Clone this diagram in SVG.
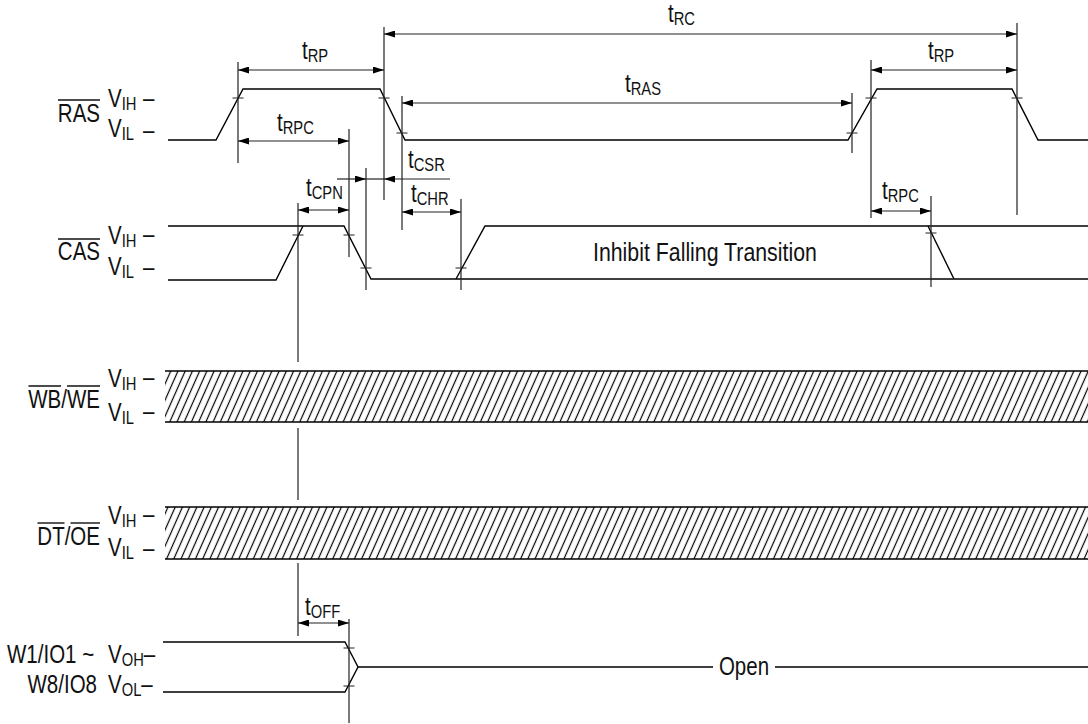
<svg xmlns="http://www.w3.org/2000/svg" width="1088" height="724" viewBox="0 0 1088 724">
<style>
text{font-family:"Liberation Sans",Arial,sans-serif;fill:#111;font-size:25px}
.s{font-size:18px}
.w{fill:none;stroke:#000;stroke-width:1.4}
.e{fill:none;stroke:#222;stroke-width:1.2}
.d{fill:none;stroke:#222;stroke-width:1.2;marker-end:url(#a)}
.dd{fill:none;stroke:#222;stroke-width:1.2;marker-start:url(#a);marker-end:url(#a)}
.t{fill:none;stroke:#222;stroke-width:1.2}
.ov{fill:none;stroke:#111;stroke-width:1.4}
</style>
<defs>
<marker id="a" viewBox="0 0 11 7" refX="11" refY="3.5" markerWidth="11" markerHeight="7" markerUnits="userSpaceOnUse" orient="auto-start-reverse"><path d="M0,0 L11,3.5 L0,7 z" fill="#000"/></marker>
<pattern id="h" patternUnits="userSpaceOnUse" width="6.6" height="10" patternTransform="rotate(24)"><line x1="3.3" y1="-2" x2="3.3" y2="12" stroke="#000" stroke-width="1.2"/></pattern>
</defs>
<rect width="1088" height="724" fill="#fff"/>

<g id="ras">
<g transform="scale(0.82,1)">
<text x="121.95" y="122" text-anchor="end">RAS</text>
<text x="131.71" y="107">V<tspan class="s" dy="3">IH</tspan></text>
<text x="174.39" y="107">–</text>
<text x="131.71" y="137">V<tspan class="s" dy="3">IL</tspan></text>
<text x="174.39" y="139">–</text>
</g>
<line class="ov" x1="58" y1="100" x2="100" y2="100"/>
<path class="w" d="M168,140 H216 L243,89 H380 L405,140 H848 L877,89 H1012 L1038,140 H1088"/>
</g>

<g id="cas">
<g transform="scale(0.82,1)">
<text x="121.95" y="260" text-anchor="end">CAS</text>
<text x="131.71" y="244">V<tspan class="s" dy="3">IH</tspan></text>
<text x="174.39" y="243">–</text>
<text x="131.71" y="275">V<tspan class="s" dy="3">IL</tspan></text>
<text x="174.39" y="276">–</text>
<text x="723.17" y="261" style="font-size:26px">Inhibit Falling Transition</text>
</g>
<line class="ov" x1="58" y1="239" x2="100" y2="239"/>
<path class="w" d="M168,226 H344 L371,279 H1088"/>
<path class="w" d="M168,280 H276 L303,226"/>
<path class="w" d="M456,279 L485,226 H1088"/>
<path class="w" d="M928,226 L954,279"/>
</g>

<g id="wbwe">
<g transform="scale(0.82,1)">
<text x="121.95" y="408" text-anchor="end">WB/WE</text>
<text x="131.71" y="387">V<tspan class="s" dy="3">IH</tspan></text>
<text x="174.39" y="386">–</text>
<text x="131.71" y="421">V<tspan class="s" dy="3">IL</tspan></text>
<text x="174.39" y="420">–</text>
</g>
<line class="ov" x1="28.5" y1="386" x2="61" y2="386"/>
<line class="ov" x1="67" y1="386" x2="100" y2="386"/>
<rect x="165" y="371" width="923" height="51" fill="url(#h)"/>
<path class="w" d="M165,371 H1088 M165,422 H1088"/>
</g>

<g id="dtoe">
<g transform="scale(0.82,1)">
<text x="121.95" y="545" text-anchor="end">DT/OE</text>
<text x="131.71" y="524">V<tspan class="s" dy="3">IH</tspan></text>
<text x="174.39" y="523">–</text>
<text x="131.71" y="556">V<tspan class="s" dy="3">IL</tspan></text>
<text x="174.39" y="557">–</text>
</g>
<line class="ov" x1="37.5" y1="523" x2="64.5" y2="523"/>
<line class="ov" x1="70.5" y1="523" x2="100" y2="523"/>
<rect x="165" y="507" width="923" height="52" fill="url(#h)"/>
<path class="w" d="M165,507 H1088 M165,559 H1088"/>
</g>

<g id="io">
<g transform="scale(0.82,1)">
<text x="8.54" y="663">W1/IO1 ~</text>
<text x="118.29" y="693" text-anchor="end">W8/IO8</text>
<text x="131.71" y="663">V<tspan class="s" dy="3">OH</tspan><tspan dy="-3">–</tspan></text>
<text x="131.71" y="693">V<tspan class="s" dy="3">OL</tspan><tspan dy="-3">–</tspan></text>
<text x="907.32" y="675" text-anchor="middle">Open</text>
</g>
<path class="w" d="M163,642 H345 L358,667 L345,692 H163"/>
<path class="w" d="M358,667 H713 M775,667 H1088"/>
</g>

<g id="connectors">
<path class="e" d="M238,62 V163 M384,27 V200 M349,129 V257 M366,168 V290 M402,96 V230 M461,199 V290 M852,93 V153 M871,60 V218 M931,196 V287 M1017,23 V215 M298,203 V362 M298,428 V500 M298,563 V636 M349,619 V723"/>
<path class="t" d="M232.5,98 h11 M378.5,98 h11 M396.5,133 h11 M846.5,133 h11 M865.5,98 h11 M1011.5,98 h11 M292.5,235 h11 M343.5,235 h11 M360.5,268 h11 M455.5,268 h11 M925.5,233 h11 M343.5,648 h11 M343.5,686 h11"/>
<path class="dd" d="M384,34 H1017"/>
<path class="dd" d="M238,70 H384"/>
<path class="dd" d="M871,70 H1017"/>
<path class="dd" d="M402,103 H852"/>
<path class="dd" d="M238,141 H349"/>
<path class="d" d="M337,179 H366"/>
<path class="d" d="M450,179 H384"/>
<path class="t" d="M366,179 H384"/>
<path class="dd" d="M298,210 H349"/>
<path class="dd" d="M402,212 H461"/>
<path class="dd" d="M871,211 H931"/>
<path class="dd" d="M298,623 H349"/>
<g transform="scale(0.82,1)">
<text x="814.63" y="22">t<tspan class="s" dy="3">RC</tspan></text>
<text x="368.29" y="59">t<tspan class="s" dy="3">RP</tspan></text>
<text x="1131.71" y="59">t<tspan class="s" dy="3">RP</tspan></text>
<text x="762.2" y="92">t<tspan class="s" dy="3">RAS</tspan></text>
<text x="337.8" y="131">t<tspan class="s" dy="3">RPC</tspan></text>
<text x="497.56" y="168">t<tspan class="s" dy="3">CSR</tspan></text>
<text x="501.22" y="202">t<tspan class="s" dy="3">CHR</tspan></text>
<text x="373.17" y="196">t<tspan class="s" dy="3">CPN</tspan></text>
<text x="1075.61" y="199">t<tspan class="s" dy="3">RPC</tspan></text>
<text x="371.95" y="615">t<tspan class="s" dy="3">OFF</tspan></text>
</g>
</g>
</svg>
